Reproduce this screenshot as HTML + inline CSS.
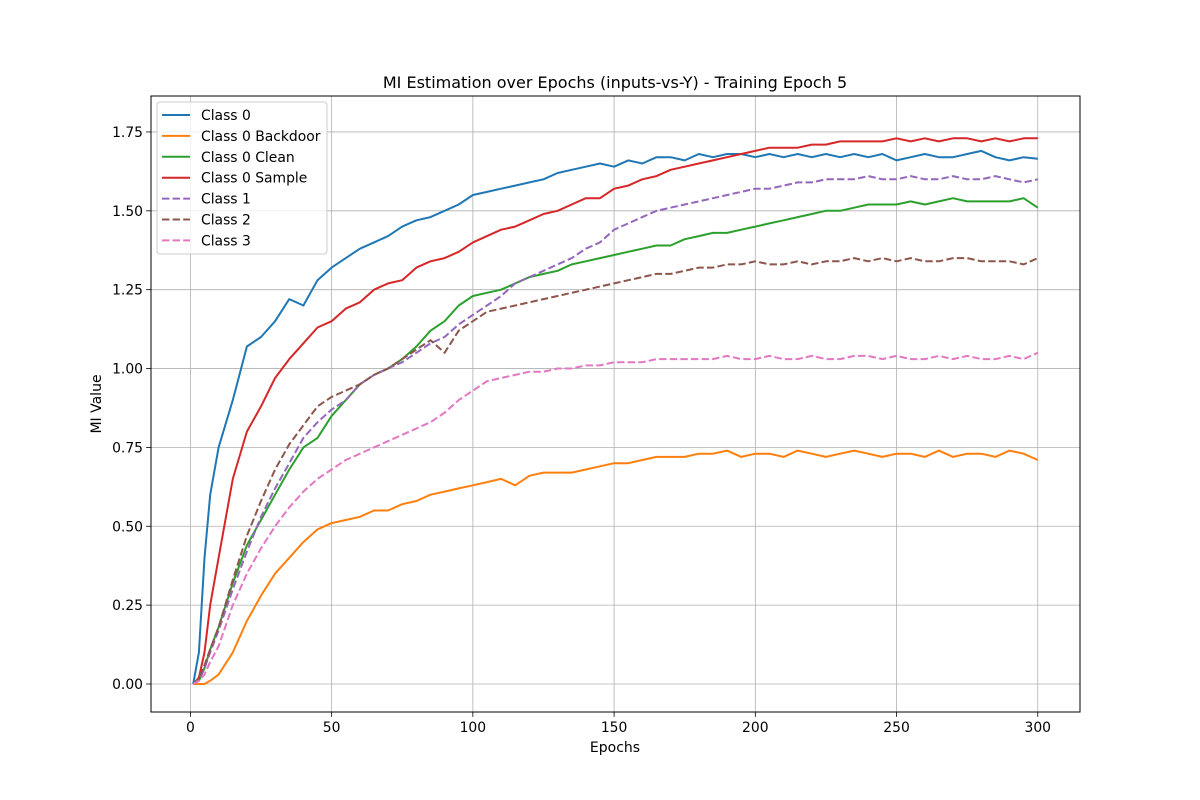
<!DOCTYPE html>
<html><head><meta charset="utf-8"><style>
html,body{margin:0;padding:0;background:#fff;}
svg{display:block;font-family:"DejaVu Sans","Liberation Sans",sans-serif;}
</style></head><body>
<svg id="chart" width="1200" height="800">
<rect x="0" y="0" width="1200" height="800" fill="#fff"/>
<g id="grid"></g>
<g id="series"></g>
<rect x="151" y="96" width="929" height="616" fill="none" stroke="#000" stroke-width="1"/>
<g id="ticks"></g>
<text x="615" y="88" text-anchor="middle" font-size="16">MI Estimation over Epochs (inputs-vs-Y) - Training Epoch 5</text>
<text x="615" y="752" text-anchor="middle" font-size="14">Epochs</text>
<text x="0" y="0" transform="translate(101,404) rotate(-90)" text-anchor="middle" font-size="14">MI Value</text>
<g id="legend"></g>
</svg>
<script>
const epochs=[1,3,5,7,10,15,20,25,30,35,40,45,50,55,60,65,70,75,80,85,90,95,100,105,110,115,120,125,130,135,140,145,150,155,160,165,170,175,180,185,190,195,200,205,210,215,220,225,230,235,240,245,250,255,260,265,270,275,280,285,290,295,300];
const class0=[0,0.1,0.4,0.6,0.75,0.9,1.07,1.1,1.15,1.22,1.2,1.28,1.32,1.35,1.38,1.4,1.42,1.45,1.47,1.48,1.5,1.52,1.55,1.56,1.57,1.58,1.59,1.6,1.62,1.63,1.64,1.65,1.64,1.66,1.65,1.67,1.67,1.66,1.68,1.67,1.68,1.68,1.67,1.68,1.67,1.68,1.67,1.68,1.67,1.68,1.67,1.68,1.66,1.67,1.68,1.67,1.67,1.68,1.69,1.67,1.66,1.67,1.665];
const class0Backdoor=[0,0,0,0.01,0.03,0.1,0.2,0.28,0.35,0.4,0.45,0.49,0.51,0.52,0.53,0.55,0.55,0.57,0.58,0.6,0.61,0.62,0.63,0.64,0.65,0.63,0.66,0.67,0.67,0.67,0.68,0.69,0.7,0.7,0.71,0.72,0.72,0.72,0.73,0.73,0.74,0.72,0.73,0.73,0.72,0.74,0.73,0.72,0.73,0.74,0.73,0.72,0.73,0.73,0.72,0.74,0.72,0.73,0.73,0.72,0.74,0.73,0.71];
const class0Clean=[0,0.01,0.05,0.11,0.18,0.32,0.44,0.52,0.6,0.68,0.75,0.78,0.85,0.9,0.95,0.98,1.0,1.03,1.07,1.12,1.15,1.2,1.23,1.24,1.25,1.27,1.29,1.3,1.31,1.33,1.34,1.35,1.36,1.37,1.38,1.39,1.39,1.41,1.42,1.43,1.43,1.44,1.45,1.46,1.47,1.48,1.49,1.5,1.5,1.51,1.52,1.52,1.52,1.53,1.52,1.53,1.54,1.53,1.53,1.53,1.53,1.54,1.51];
const class0Sample=[0,0.02,0.1,0.25,0.4,0.65,0.8,0.88,0.97,1.03,1.08,1.13,1.15,1.19,1.21,1.25,1.27,1.28,1.32,1.34,1.35,1.37,1.4,1.42,1.44,1.45,1.47,1.49,1.5,1.52,1.54,1.54,1.57,1.58,1.6,1.61,1.63,1.64,1.65,1.66,1.67,1.68,1.69,1.7,1.7,1.7,1.71,1.71,1.72,1.72,1.72,1.72,1.73,1.72,1.73,1.72,1.73,1.73,1.72,1.73,1.72,1.73,1.73];
const class1=[0,0.01,0.05,0.1,0.17,0.3,0.42,0.53,0.62,0.7,0.78,0.83,0.87,0.9,0.95,0.98,1.0,1.02,1.05,1.08,1.1,1.14,1.17,1.2,1.23,1.27,1.29,1.31,1.33,1.35,1.38,1.4,1.44,1.46,1.48,1.5,1.51,1.52,1.53,1.54,1.55,1.56,1.57,1.57,1.58,1.59,1.59,1.6,1.6,1.6,1.61,1.6,1.6,1.61,1.6,1.6,1.61,1.6,1.6,1.61,1.6,1.59,1.6];
const class2=[0,0.02,0.06,0.11,0.18,0.33,0.47,0.58,0.68,0.76,0.82,0.88,0.91,0.93,0.95,0.98,1.0,1.03,1.06,1.09,1.05,1.12,1.15,1.18,1.19,1.2,1.21,1.22,1.23,1.24,1.25,1.26,1.27,1.28,1.29,1.3,1.3,1.31,1.32,1.32,1.33,1.33,1.34,1.33,1.33,1.34,1.33,1.34,1.34,1.35,1.34,1.35,1.34,1.35,1.34,1.34,1.35,1.35,1.34,1.34,1.34,1.33,1.35];
const class3=[0,0.01,0.03,0.07,0.12,0.25,0.35,0.43,0.5,0.56,0.61,0.65,0.68,0.71,0.73,0.75,0.77,0.79,0.81,0.83,0.86,0.9,0.93,0.96,0.97,0.98,0.99,0.99,1.0,1.0,1.01,1.01,1.02,1.02,1.02,1.03,1.03,1.03,1.03,1.03,1.04,1.03,1.03,1.04,1.03,1.03,1.04,1.03,1.03,1.04,1.04,1.03,1.04,1.03,1.03,1.04,1.03,1.04,1.03,1.03,1.04,1.03,1.05];
const seriesNames=["Class 0","Class 0 Backdoor","Class 0 Clean","Class 0 Sample","Class 1","Class 2","Class 3"];
const xTickLabels=["0","50","100","150","200","250","300"];
const yTickLabels=["0.00","0.25","0.50","0.75","1.00","1.25","1.50","1.75"];

const allSeries=[class0,class0Backdoor,class0Clean,class0Sample,class1,class2,class3];
const colors=["#1f77b4","#ff7f0e","#2ca02c","#d62728","#9467bd","#8c564b","#e377c2"];
const dashed=[false,false,false,false,true,true,true];
const NS="http://www.w3.org/2000/svg";
const L=151,R=1080,T=96,B=712;
const xmin=-13.95,xmax=314.95,ymin=-0.0888,ymax=1.864;
function xs(v){return L+(v-xmin)/(xmax-xmin)*(R-L);}
function ys(v){return B-(v-ymin)/(ymax-ymin)*(B-T);}
function mk(tag,attrs,parent){const e=document.createElementNS(NS,tag);for(const k in attrs)e.setAttribute(k,attrs[k]);parent.appendChild(e);return e;}
const grid=document.getElementById('grid'),ticks=document.getElementById('ticks');
xTickLabels.forEach(t=>{const v=parseFloat(t),x=xs(v);
 const g=mk('line',{x1:x,x2:x,y1:T,y2:B,stroke:'#b0b0b0','stroke-width':0.8},grid);
 
 
 const tk=mk('line',{x1:x,x2:x,y1:B,y2:B+4.9,stroke:'#000','stroke-width':0.8},ticks);
 
 
 const tx=mk('text',{x:x,y:B+20,'text-anchor':'middle','font-size':13.9},ticks);tx.textContent=t;
 
 
});
yTickLabels.forEach(t=>{const v=parseFloat(t),y=ys(v);
 const g=mk('line',{x1:L,x2:R,y1:y,y2:y,stroke:'#b0b0b0','stroke-width':0.8},grid);
 
 
 const tk=mk('line',{x1:L-4.9,x2:L,y1:y,y2:y,stroke:'#000','stroke-width':0.8},ticks);
 
 
 const tx=mk('text',{x:L-8,y:y+5,'text-anchor':'end','font-size':13.9},ticks);tx.textContent=t;
 
 
});
const sg=document.getElementById('series');
allSeries.forEach((s,i)=>{
 const pts=s.map((v,j)=>xs(epochs[j]).toFixed(1)+','+ys(v).toFixed(1)).join(' ');
 const a={points:pts,fill:'none',stroke:colors[i],'stroke-width':2,'stroke-linejoin':'round'};
 if(dashed[i])a['stroke-dasharray']='7.4,3.2';
 const p=mk('polyline',a,sg);
 
 
});
const lg=document.getElementById('legend');
const box=mk('rect',{x:157,y:102,width:170,height:152,rx:3,fill:'#fff','fill-opacity':0.8,stroke:'#cccccc','stroke-width':1},lg);


seriesNames.forEach((n,i)=>{const y=115+i*20.9;
 const a={x1:162,x2:190,y1:y,y2:y,stroke:colors[i],'stroke-width':2};
 if(dashed[i])a['stroke-dasharray']='7.4,3.2';
 const l=mk('line',a,lg);
 
 
 const t=mk('text',{x:201,y:y+5,'font-size':13.9},lg);t.textContent=n;
 
 
});
</script>
</body></html>
